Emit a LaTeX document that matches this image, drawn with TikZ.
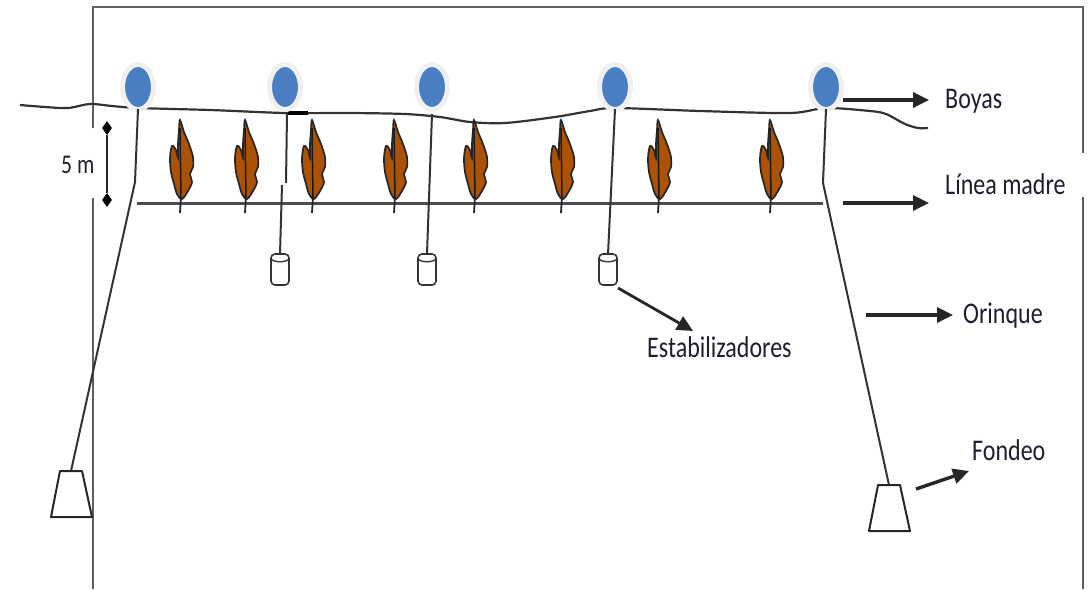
\documentclass[tikz,border=0pt]{standalone}
\usepackage{fontspec}
\setmainfont{Carlito}[FakeStretch=0.8]
\usetikzlibrary{arrows.meta,shapes.geometric}
\definecolor{buoyblue}{RGB}{74,126,194}
\definecolor{kelpbrown}{RGB}{172,82,4}
\definecolor{framegray}{RGB}{95,95,95}
\definecolor{inkdark}{RGB}{30,30,44}

\tikzset{
  % brown kelp blade with its midrib and stalk; origin at the blade base
  kelp/.pic={
    \draw[black!85,line width=1.8pt] (0,-4) -- (-1,13);
    \filldraw[fill=kelpbrown,draw=black!85,line width=1.7pt]
      plot[smooth cycle,tension=0.55] coordinates {(-1,-80) (3,-68) (8,-56) (12,-43) (12,-33) (9,-26) (11,-18) (7,-9) (1,-1) (-4,-6) (-7,-16) (-10,-28) (-11,-42) (-9,-54) (-5,-50) (-3,-42) (-3,-56) (-2,-70)};
    \draw[black!90,line width=1.5pt] (-1,-72) -- (0,-2);
  },
  % small cylindrical float; origin at its top centre
  stabil/.pic={
    \draw[black!80,line width=1.6pt,rounded corners=4pt] (-9,0) rectangle (9,31);
    \draw[black!80,line width=1.4pt] (-9,4) .. controls (-9,9) and (9,9) .. (9,4);
  },
  % trapezoidal anchor block; origin at its top centre
  anchorblock/.pic={
    \draw[black!85,line width=2pt,line join=round] (-11,0) -- (11,0) -- (21,46) -- (-20,46) -- cycle;
  }
}

\begin{document}
\begin{tikzpicture}[x=1pt,y=-1pt,
  frameline/.style={draw=framegray,line width=2.8pt},
  rope/.style={draw=black!80,line width=2pt},
  ptr/.style={draw=black!85,line width=3.4pt,-{Triangle[length=16pt,width=15pt]}},
  lbl/.style={anchor=base west,inner sep=0pt,text=inkdark,font=\fontsize{30}{36}\selectfont},
  buoy/.style={ellipse,fill=buoyblue,draw=gray!12,line width=5pt,minimum width=31pt,minimum height=45pt,inner sep=0pt},
  tick/.style={diamond,fill=black,inner sep=0pt,minimum width=10pt,minimum height=14pt}]

\useasboundingbox (0,0) rectangle (1091,589);

% outer frame, open where the side labels sit
\draw[frameline] (93,589) -- (93,198);
\draw[frameline] (93,128) -- (93,7) -- (1083,7) -- (1083,153);
\draw[frameline] (1083,197) -- (1083,589);

% sea surface
\draw[black!80,line width=2.2pt] plot[smooth,tension=0.5] coordinates {(20,105) (45,107) (68,108) (90,104) (112,106) (138,108) (210,110) (285,113) (350,113) (405,114) (440,117) (470,122) (505,123) (555,117) (590,111) (615,108) (700,111) (790,113) (826,108) (870,111) (886,114) (905,124) (918,128) (928,128)};
\draw[black,line width=3.6pt] (288,113) -- (308,113);

% mother line
\draw[draw=black!70,line width=3pt] (137,203) -- (823,203);

% buoys
\node[buoy] (b1) at (138,87) {};
\node[buoy] (b2) at (285,87) {};
\node[buoy] (b3) at (432,87) {};
\node[buoy] (b4) at (615,87) {};
\node[buoy] (b5) at (826,87) {};

% kelp blades hanging from the mother line
\foreach \kx in {181,246,313,395,475,562,659,771}
  \pic at (\kx,200) {kelp};

% anchor ropes and anchors
\coordinate (k1) at (135,182);
\coordinate (k5) at (823,183);
\coordinate (a1) at (71,471);
\coordinate (a5) at (889,485);
\draw[rope] (138,109) -- (k1) -- (a1);
\draw[rope] (826,109) -- (k5) -- (a5);
\pic at (a1) {anchorblock};
\pic at (a5) {anchorblock};

% stabiliser floats
\coordinate (s1) at (280,254);
\coordinate (s2) at (427,254);
\coordinate (s3) at (608,254);
\coordinate (j2) at (286,183);
\coordinate (j2b) at (282,185);
\draw[rope] (287,114) -- (j2);
\draw[rope] (j2b) -- (s1);
\draw[rope] (432,114) -- (s2);
\draw[rope] (615,109) -- (s3);
\pic at (s1) {stabil};
\pic at (s2) {stabil};
\pic at (s3) {stabil};

% 5 m depth mark
\node[tick] (d1) at (107,128) {};
\node[tick] (d2) at (107,200) {};
\draw[black!85,line width=1.8pt] (d1) -- (d2);
\node[lbl,font=\fontsize{27}{32}\selectfont] (depth) at (61,173) {5 m};

% labels
\node[lbl] (tboyas) at (945,108) {Boyas};
\node[lbl] (tlinea) at (945,194) {Línea madre};
\node[lbl] (torinque) at (963,323) {Orinque};
\node[lbl] (tfondeo) at (972,460) {Fondeo};
\node[lbl] (testab) at (647,357) {Estabilizadores};

% pointers
\coordinate (p1a) at (843,100);  \coordinate (p1b) at (929,100);
\coordinate (p2a) at (843,203);  \coordinate (p2b) at (929,203);
\coordinate (p3a) at (866,315);  \coordinate (p3b) at (953,315);
\coordinate (p4a) at (916,489);  \coordinate (p4b) at (969,471);
\coordinate (p5a) at (618,288);  \coordinate (p5b) at (693,331);
\draw[ptr] (p1a) -- (p1b);
\draw[ptr] (p2a) -- (p2b);
\draw[ptr] (p3a) -- (p3b);
\draw[ptr] (p4a) -- (p4b);
\draw[ptr,line width=2.8pt] (p5a) -- (p5b);
\end{tikzpicture}
\end{document}
